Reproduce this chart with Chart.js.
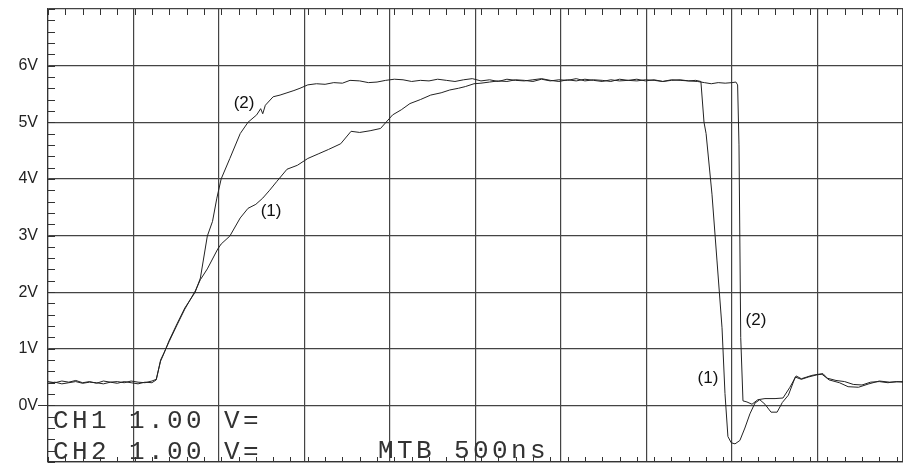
<!DOCTYPE html>
<html>
<head>
<meta charset="utf-8">
<script src="https://cdn.jsdelivr.net/npm/chart.js@4.4.1/dist/chart.umd.min.js"></script>
<style>
  html, body { margin: 0; padding: 0; background: #fff; }
  #wrap { width: 903px; height: 463px; position: relative; }
</style>
</head>
<body>
<div id="wrap"><canvas id="c" width="903" height="463"></canvas></div>
<script>
// ---- Data (time in ns, voltage in V) ----
const ch1Time = [0,40,80,120,160,200,240,280,320,360,400,440,480,520,560,600,625,650,670,700,745,790,850,880,920,980,1000,1050,1110,1155,1200,1240,1280,1320,1380,1440,1500,1560,1620,1690,1750,1800,1860,1920,1990,2040,2090,2150,2210,2270,2320,2370,2410,2460,2500,2550,2600,2650,2700,2750,2800,2850,2900,2950,3000,3050,3100,3150,3200,3250,3300,3350,3400,3450,3500,3550,3600,3650,3700,3740,3770,3788,3800,3834,3863,3892,3909,3926,3945,3967,3995,4024,4053,4082,4110,4140,4175,4210,4240,4275,4315,4350,4390,4440,4469,4510,4570,4620,4680,4740,4800,4860,4937];
const ch1Volts = [0.39,0.41,0.38,0.40,0.42,0.39,0.41,0.40,0.38,0.41,0.39,0.42,0.40,0.38,0.41,0.40,
  0.45,0.80,0.93,1.13,1.42,1.70,2.02,2.22,2.41,2.76,2.85,2.99,3.31,3.48,3.55,3.66,3.80,3.95,4.17,4.24,4.36,4.44,4.52,4.62,
  4.84,4.82,4.85,4.89,5.13,5.22,5.33,5.40,5.48,5.52,5.57,5.60,5.63,5.68,5.69,5.71,5.73,5.72,5.75,5.74,5.72,5.76,5.73,5.75,
  5.74,5.77,5.73,5.75,5.74,5.72,5.76,5.74,5.73,5.75,5.74,5.72,5.75,5.74,5.73,5.74,5.72,5.00,4.80,3.73,2.55,1.37,0.21,-0.55,
  -0.66,-0.68,-0.62,-0.40,-0.15,0.04,0.10,0.02,-0.12,-0.12,0.05,0.18,0.50,0.46,0.50,0.54,0.55,0.45,0.40,0.33,0.32,0.38,0.43,0.41,0.42];

const ch2Time = [0,40,80,120,160,200,240,280,320,360,400,440,480,520,560,600,625,650,670,700,745,790,850,880,920,950,975,1000,1050,1110,1155,1205,1228,1240,1255,1300,1340,1380,1420,1455,1500,1550,1600,1650,1700,1744,1800,1850,1900,1950,2000,2050,2100,2150,2200,2250,2300,2350,2400,2450,2500,2550,2600,2650,2700,2750,2800,2850,2900,2950,3000,3050,3100,3150,3200,3250,3300,3350,3400,3450,3500,3550,3600,3650,3700,3750,3790,3830,3870,3910,3950,3972,3982,3990,4000,4013,4036,4065,4099,4140,4198,4244,4284,4320,4350,4380,4411,4450,4475,4500,4550,4600,4650,4700,4750,4800,4850,4900,4937];
const ch2Volts = [0.42,0.40,0.43,0.41,0.44,0.40,0.42,0.39,0.43,0.41,0.42,0.40,0.43,0.41,0.40,0.43,
  0.46,0.78,0.92,1.15,1.44,1.72,2.00,2.25,2.99,3.25,3.66,4.00,4.36,4.80,5.00,5.13,5.24,5.15,5.30,5.45,5.48,5.52,5.56,5.60,
  5.66,5.68,5.67,5.70,5.69,5.74,5.73,5.70,5.71,5.74,5.76,5.75,5.72,5.74,5.73,5.76,5.74,5.72,5.75,5.77,5.73,5.75,5.72,5.76,
  5.74,5.73,5.75,5.77,5.74,5.72,5.75,5.73,5.76,5.74,5.72,5.75,5.73,5.74,5.76,5.73,5.75,5.72,5.74,5.75,5.73,5.72,5.70,5.68,
  5.70,5.69,5.70,5.71,5.66,4.60,1.20,0.08,0.06,0.02,0.10,0.12,0.12,0.13,0.32,0.52,0.47,0.50,0.53,0.55,0.56,0.48,0.44,0.42,
  0.37,0.36,0.41,0.42,0.40,0.42,0.41];

const voltTicks = [0,1,2,3,4,5,6];
const traceLabels = [
  { text: '(2)', t: 1132, v: 5.33 },
  { text: '(1)', t: 1288, v: 3.43 },
  { text: '(2)', t: 4088, v: 1.51 },
  { text: '(1)', t: 3811, v: 0.47 }
];
const statusLines = [
  { text: 'CH1 1.00 V=', x: 53, y: 428 },
  { text: 'CH2 1.00 V=', x: 53, y: 459 },
  { text: 'MTB 500ns',   x: 378, y: 458 }
];

const zip = (xs, ys) => xs.map((x, i) => ({ x: x, y: ys[i] }));

const scopePlugin = {
  id: 'scope',
  afterDraw(chart) {
    const ctx = chart.ctx;
    const xs = chart.scales.x, ys = chart.scales.y;
    const a = chart.chartArea;
    ctx.save();
    ctx.strokeStyle = '#333';
    ctx.lineWidth = 1;
    ctx.beginPath();
    // minor ticks top & bottom every 100 ns
    for (let t = 0; t <= xs.max; t += 100) {
      const px = Math.round(xs.getPixelForValue(t)) + 0.5;
      ctx.moveTo(px, a.top); ctx.lineTo(px, a.top + 6);
      ctx.moveTo(px, a.bottom); ctx.lineTo(px, a.bottom - 5);
    }
    // minor ticks left every 0.2 V
    for (let k = -5; k <= 35; k++) {
      const py = Math.round(ys.getPixelForValue(k * 0.2)) + 0.5;
      ctx.moveTo(a.left, py); ctx.lineTo(a.left + 7, py);
    }
    // ground marker
    const gy = Math.round(ys.getPixelForValue(0)) + 0.5;
    ctx.moveTo(a.left - 10, gy); ctx.lineTo(a.left, gy);
    ctx.stroke();

    // voltage labels
    ctx.fillStyle = '#222';
    ctx.font = '16px "Liberation Sans", Arial, sans-serif';
    ctx.textAlign = 'right';
    ctx.textBaseline = 'middle';
    voltTicks.forEach(v => ctx.fillText(v + 'V', a.left - 10, ys.getPixelForValue(v)));

    // trace labels
    ctx.fillStyle = '#111';
    ctx.font = '17px "Liberation Sans", Arial, sans-serif';
    ctx.textAlign = 'center';
    traceLabels.forEach(l => {
      ctx.fillText(l.text, xs.getPixelForValue(l.t), ys.getPixelForValue(l.v));
    });

    // status text
    ctx.fillStyle = '#333';
    ctx.font = '26px "Liberation Mono", "Courier New", monospace';
    ctx.textAlign = 'left';
    ctx.textBaseline = 'alphabetic';
    ctx.letterSpacing = '3.4px';
    statusLines.forEach(s => ctx.fillText(s.text, s.x, s.y));
    ctx.restore();
  }
};

new Chart(document.getElementById('c'), {
  type: 'line',
  data: {
    datasets: [
      { label: 'CH1', data: zip(ch1Time, ch1Volts), borderColor: '#222', borderWidth: 1, pointRadius: 0, pointHoverRadius: 0, tension: 0 },
      { label: 'CH2', data: zip(ch2Time, ch2Volts), borderColor: '#222', borderWidth: 1, pointRadius: 0, pointHoverRadius: 0, tension: 0 }
    ]
  },
  options: {
    responsive: false,
    animation: false,
    events: [],
    layout: { autoPadding: false, padding: { top: 9, bottom: 1, left: 0, right: 0 } },
    plugins: { legend: { display: false }, tooltip: { enabled: false } },
    scales: {
      x: {
        type: 'linear', min: 0, max: 4937,
        ticks: { display: false, stepSize: 500 },
        grid: { color: '#444', lineWidth: 1.2, drawTicks: false },
        border: { display: true, color: '#333', width: 1.2 },
        afterFit(s) { s.height = 0; }
      },
      y: {
        min: -1, max: 7,
        ticks: { display: false, stepSize: 1 },
        grid: { color: '#444', lineWidth: 1.2, drawTicks: false },
        border: { display: true, color: '#333', width: 1.2 },
        afterFit(s) { s.width = 48; }
      }
    }
  },
  plugins: [scopePlugin]
});
</script>
</body>
</html>
